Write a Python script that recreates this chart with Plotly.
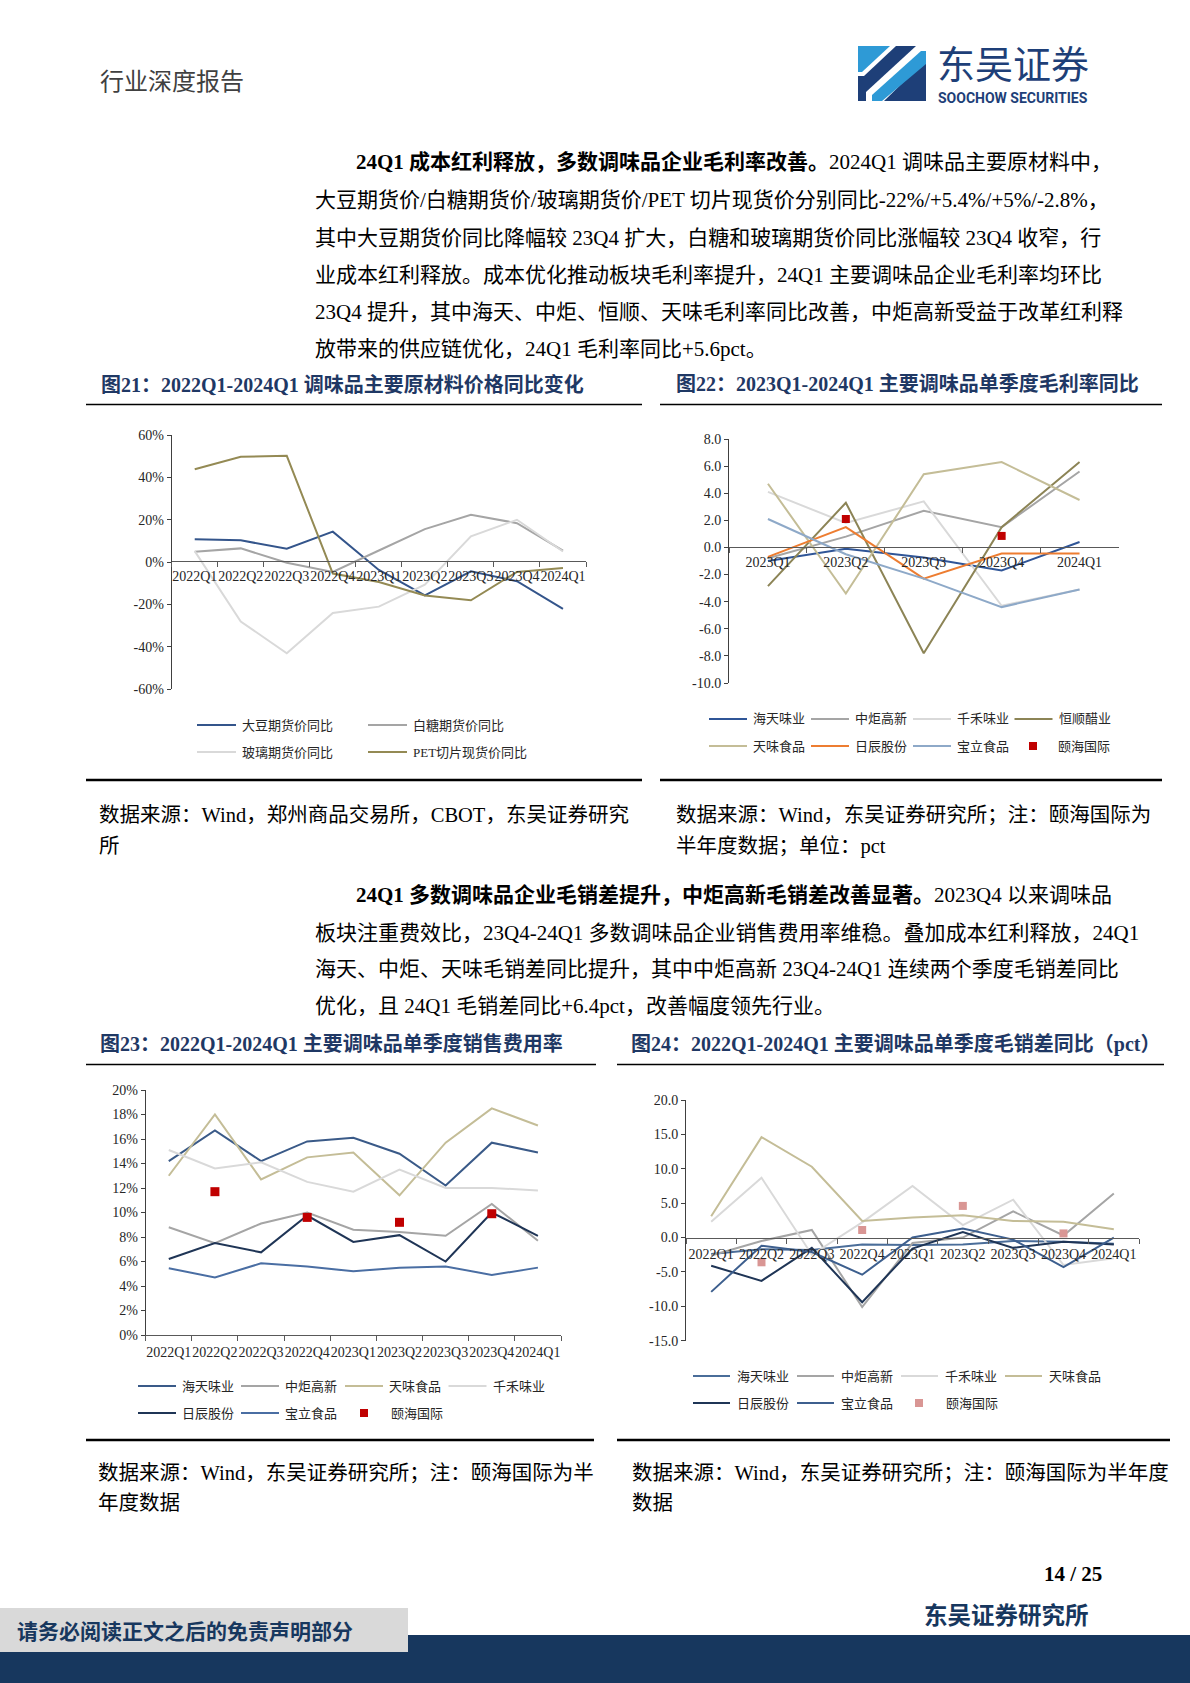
import plotly.graph_objects as go

W, H = 1190, 1683
def fx(x): return x / W
def fy(y): return 1 - y / H

SERIF = "Liberation Serif, Times New Roman, Noto Sans CJK SC, serif"
CJK = "Noto Sans CJK SC, sans-serif"
NAVY = "#1F3864"

# ---------------- data ----------------
quarters9 = ["2022Q1", "2022Q2", "2022Q3", "2022Q4", "2023Q1", "2023Q2", "2023Q3", "2023Q4", "2024Q1"]
quarters5 = ["2023Q1", "2023Q2", "2023Q3", "2023Q4", "2024Q1"]

# Fig 21 raw material price yoy (%)
names21 = ["大豆期货价同比", "白糖期货价同比", "玻璃期货价同比", "PET切片现货价同比"]
soybean21 = [10.8, 10.3, 6.3, 14.4, -3.7, -15.7, -4.3, -9.0, -22.0]
sugar21 = [4.9, 6.5, -0.3, -4.6, 5.5, 15.6, 22.4, 18.4, 5.4]
glass21 = [5.2, -28.0, -43.0, -24.0, -21.0, -10.6, 12.2, 20.0, 5.0]
pet21 = [43.8, 49.7, 50.2, -5.4, -9.4, -15.7, -18.0, -4.6, -2.8]
colors21 = ["#34558B", "#A5A5A5", "#D9D9D9", "#948A54"]

# Fig 22 gross margin yoy (pct)
names22 = ["海天味业", "中炬高新", "千禾味业", "恒顺醋业", "天味食品", "日辰股份", "宝立食品", "颐海国际"]
haitian22 = [-1.0, -0.1, -0.75, -1.7, 0.4]
zhongju22 = [-0.8, 0.8, 2.7, 1.5, 5.6]
qianhe22 = [4.1, 1.8, 3.4, -4.3, -3.1]
hengshun22 = [-2.85, 3.3, -7.8, 1.5, 6.3]
tianwei22 = [4.7, -3.4, 5.4, 6.3, 3.5]
richen22 = [-0.7, 1.5, -2.3, -0.45, -0.45]
baoli22 = [2.1, -0.5, -2.3, -4.4, -3.1]
yihai22 = [None, 2.1, None, 0.85, None]
colors22 = ["#2F5597", "#A5A5A5", "#D9D9D9", "#8C8456", "#C4BD97", "#ED7D31", "#8EA9C8", "#C00000"]

# Fig 23 selling expense ratio (%)
names23 = ["海天味业", "中炬高新", "天味食品", "千禾味业", "日辰股份", "宝立食品", "颐海国际"]
haitian23 = [14.2, 16.7, 14.2, 15.8, 16.1, 14.8, 12.2, 15.7, 14.9]
zhongju23 = [8.8, 7.5, 9.1, 10.0, 8.6, 8.4, 8.1, 10.7, 7.7]
tianwei23 = [13.0, 18.0, 12.7, 14.5, 14.9, 11.4, 15.7, 18.5, 17.1]
qianhe23 = [15.1, 13.6, 14.1, 12.5, 11.7, 13.5, 12.0, 12.0, 11.8]
richen23 = [6.2, 7.5, 6.75, 9.75, 7.6, 8.15, 6.0, 10.0, 8.1]
baoli23 = [5.45, 4.7, 5.85, 5.6, 5.2, 5.5, 5.6, 4.9, 5.5]
yihai23 = [None, 11.7, None, 9.6, None, 9.2, None, 9.9, None]
colors23 = ["#3A5A88", "#A5A5A5", "#C4BD97", "#D9D9D9", "#1F3556", "#4A6EA3", "#C00000"]

# Fig 24 gross margin minus selling expense ratio yoy (pct)
names24 = ["海天味业", "中炬高新", "千禾味业", "天味食品", "日辰股份", "宝立食品", "颐海国际"]
haitian24 = [-2.4, -1.7, -1.8, -1.0, -1.1, -1.0, -0.5, -0.6, -0.9]
zhongju24 = [-2.6, -0.5, 1.1, -10.1, -0.8, 0.0, 3.8, 0.3, 6.4]
qianhe24 = [2.3, 8.7, -2.5, 2.2, 7.5, 1.8, 5.5, -4.0, -3.0]
tianwei24 = [3.1, 14.6, 10.3, 2.4, 2.9, 3.25, 2.4, 2.3, 1.2]
richen24 = [-4.1, -6.3, -1.5, -9.4, -1.6, 0.8, -1.5, -0.6, -1.0]
baoli24 = [-7.9, -1.2, -2.1, -5.4, 0.0, 1.3, -0.3, -4.3, 0.0]
yihai24 = [None, -3.6, None, 1.1, None, 4.6, None, 0.6, None]
colors24 = ["#4A6D99", "#A5A5A5", "#D9D9D9", "#C4BD97", "#1F3556", "#3D5F8E", "#D99694"]

# tick labels
yticks21 = [-60, -40, -20, 0, 20, 40, 60]
yticktext21 = ["-60%", "-40%", "-20%", "0%", "20%", "40%", "60%"]
yticks22 = [-10, -8, -6, -4, -2, 0, 2, 4, 6, 8]
yticktext22 = ["-10.0", "-8.0", "-6.0", "-4.0", "-2.0", "0.0", "2.0", "4.0", "6.0", "8.0"]
yticks23 = [0, 2, 4, 6, 8, 10, 12, 14, 16, 18, 20]
yticktext23 = ["0%", "2%", "4%", "6%", "8%", "10%", "12%", "14%", "16%", "18%", "20%"]
yticks24 = [-15, -10, -5, 0, 5, 10, 15, 20]
yticktext24 = ["-15.0", "-10.0", "-5.0", "0.0", "5.0", "10.0", "15.0", "20.0"]

# ---------------- figure ----------------
fig = go.Figure()

def add_line(x, y, name, color, xa, ya, width=2):
    fig.add_trace(go.Scatter(x=x, y=y, name=name, mode="lines", line=dict(color=color, width=width),
                             xaxis=xa, yaxis=ya, hoverinfo="skip", cliponaxis=False))

def add_sq(x, y, name, color, xa, ya, size=8):
    fig.add_trace(go.Scatter(x=x, y=y, name=name, mode="markers",
                             marker=dict(symbol="square", size=size, color=color, line=dict(width=0)),
                             xaxis=xa, yaxis=ya, hoverinfo="skip", cliponaxis=False))

for vals, nm, c in zip([soybean21, sugar21, glass21, pet21], names21, colors21):
    add_line(quarters9, vals, nm, c, "x", "y")
for vals, nm, c in zip([haitian22, zhongju22, qianhe22, hengshun22, tianwei22, richen22, baoli22],
                       names22[:7], colors22[:7]):
    add_line(quarters5, vals, nm, c, "x2", "y2")
add_sq(quarters5, yihai22, names22[7], colors22[7], "x2", "y2", 8)
for vals, nm, c in zip([haitian23, zhongju23, tianwei23, qianhe23, richen23, baoli23],
                       names23[:6], colors23[:6]):
    add_line(quarters9, vals, nm, c, "x3", "y3")
add_sq(quarters9, yihai23, names23[6], colors23[6], "x3", "y3", 9)
for vals, nm, c in zip([haitian24, zhongju24, qianhe24, tianwei24, richen24, baoli24],
                       names24[:6], colors24[:6]):
    add_line(quarters9, vals, nm, c, "x4", "y4")
add_sq(quarters9, yihai24, names24[6], colors24[6], "x4", "y4", 8)

TICKFONT = dict(family=SERIF, size=14, color="#262626")

def yax(top, bottom, rng, tv, tt, anchor):
    return dict(domain=[fy(bottom), fy(top)], range=rng, tickvals=tv, ticktext=tt, anchor=anchor,
                showgrid=False, zeroline=False, showline=True, linecolor="#404040", linewidth=1,
                ticks="outside", ticklen=4, tickcolor="#404040", tickfont=TICKFONT, fixedrange=True,
                automargin=False)

def xax(left, right, n, anchor=None, position=None, standoff=2):
    d = dict(domain=[fx(left), fx(right)], range=[-0.5, n - 0.5], type="category",
             tickson="boundaries", ticks="outside", ticklen=5, tickcolor="#595959",
             showline=True, linecolor="#595959", linewidth=1, showgrid=False, zeroline=False,
             tickangle=0, tickfont=TICKFONT, fixedrange=True, automargin=False,
             ticklabelstandoff=standoff)
    if position is not None:
        d.update(anchor="free", position=fy(position))
    else:
        d["anchor"] = anchor
    return d

fig.update_layout(
    width=W, height=H, autosize=False, margin=dict(l=0, r=0, t=0, b=0, pad=0, autoexpand=False),
    paper_bgcolor="white", plot_bgcolor="rgba(0,0,0,0)", showlegend=False,
    xaxis=xax(171.7, 586, 9, position=561, standoff=2),
    yaxis=yax(435, 689.3, [-60, 60], yticks21, yticktext21, "x"),
    xaxis2=xax(729, 1118.5, 5, position=546.7, standoff=2),
    yaxis2=yax(439, 683, [-10, 8], yticks22, yticktext22, "x2"),
    xaxis3=xax(145.7, 561, 9, anchor="y3", standoff=4),
    yaxis3=yax(1090, 1335, [0, 20], yticks23, yticktext23, "x3"),
    xaxis4=xax(686, 1139, 9, position=1237.5, standoff=4),
    yaxis4=yax(1100, 1340.7, [-15, 20], yticks24, yticktext24, "x4"),
)

shapes = []
annots = []

def hline(x0, x1, y, color="black", width=1.5):
    shapes.append(dict(type="line", xref="paper", yref="paper", x0=fx(x0), x1=fx(x1),
                       y0=fy(y), y1=fy(y), line=dict(color=color, width=width)))

def rect(x0, y0, x1, y1, color, layer="below"):
    shapes.append(dict(type="rect", xref="paper", yref="paper", x0=fx(x0), x1=fx(x1),
                       y0=fy(y1), y1=fy(y0), fillcolor=color, line=dict(width=0), layer=layer))

def path(pts, color):
    p = "M " + " L ".join(f"{fx(a):.5f},{fy(b):.5f}" for a, b in pts) + " Z"
    shapes.append(dict(type="path", xref="paper", yref="paper", path=p, fillcolor=color, line=dict(width=0)))

def text(x, y, s, size=21, color="black", family=SERIF, xanchor="left"):
    annots.append(dict(x=fx(x), y=fy(y), xref="paper", yref="paper", text=s, showarrow=False,
                       xanchor=xanchor, yanchor="middle", font=dict(family=family, size=size, color=color)))

LEGFONT = "Liberation Serif, Noto Sans CJK SC, sans-serif"

def leg_line(x0, y, color, label, length=38, offset=42):
    hline(x0, x0 + length, y, color, 2)
    text(x0 + offset, y, label, 13, "#262626", LEGFONT)

def leg_sq(xc, y, color, label, tx, size=8):
    shapes.append(dict(type="rect", xref="paper", yref="paper", x0=fx(xc - size / 2), x1=fx(xc + size / 2),
                       y0=fy(y + size / 2), y1=fy(y - size / 2), fillcolor=color, line=dict(width=0)))
    text(tx, y, label, 13, "#262626", LEGFONT)

# ---------- header ----------
text(98, 79, "行业深度报告", 24, "#404040", CJK)
LOGO_NAVY = "#1E3F78"
LOGO_BLUE = "#2E9AD6"
rect(858, 46, 926, 101, LOGO_NAVY, layer="above")
path([(866, 101), (884, 101), (926, 60), (926, 46), (916, 46), (866, 92)], "white")
path([(872, 101), (882, 101), (926, 64), (926, 51), (921, 51), (872, 95)], LOGO_BLUE)
path([(858, 46), (896, 46), (864, 76), (858, 76)], "white")
path([(858, 46), (890, 46), (862, 72), (858, 72)], LOGO_BLUE)
text(935, 62, "东吴证券", 38, LOGO_NAVY, CJK)
text(936, 98, "<b>SOOCHOW SECURITIES</b>", 14, LOGO_NAVY, "Roboto, Noto Sans, sans-serif")

# ---------- paragraph 1 ----------
p1 = [
    "<b>24Q1 成本红利释放，多数调味品企业毛利率改善。</b>2024Q1 调味品主要原材料中，",
    "大豆期货价/白糖期货价/玻璃期货价/PET 切片现货价分别同比-22%/+5.4%/+5%/-2.8%，",
    "其中大豆期货价同比降幅较 23Q4 扩大，白糖和玻璃期货价同比涨幅较 23Q4 收窄，行",
    "业成本红利释放。成本优化推动板块毛利率提升，24Q1 主要调味品企业毛利率均环比",
    "23Q4 提升，其中海天、中炬、恒顺、天味毛利率同比改善，中炬高新受益于改革红利释",
    "放带来的供应链优化，24Q1 毛利率同比+5.6pct。",
]
p1y = [162, 200, 237.5, 275, 312, 349]
for i, (s, y) in enumerate(zip(p1, p1y)):
    text(354 if i == 0 else 313, y, s, 21)

# ---------- figure titles row 1 ----------
text(99, 384, "<b>图21：2022Q1-2024Q1 调味品主要原材料价格同比变化</b>", 20, NAVY)
text(674, 384, "<b>图22：2023Q1-2024Q1 主要调味品单季度毛利率同比</b>", 20, NAVY)
hline(86, 642, 404.5, "black", 1.5)
hline(660, 1162, 404.5, "black", 1.5)
hline(86, 642, 780, "black", 2.5)
hline(660, 1162, 780, "black", 2.5)

# legends
leg_line(197, 725, colors21[0], names21[0], 39, 43)
leg_line(368, 725, colors21[1], names21[1], 39, 43)
leg_line(197, 752, colors21[2], names21[2], 39, 43)
leg_line(368, 752, colors21[3], names21[3], 39, 43)
cols22 = [709, 811, 913, 1014.5]
for i in range(4):
    leg_line(cols22[i], 719, colors22[i], names22[i])
for i in range(3):
    leg_line(cols22[i], 746, colors22[4 + i], names22[4 + i])
leg_sq(1033, 746, colors22[7], names22[7], 1056)

# sources row 1
text(97, 815, "数据来源：Wind，郑州商品交易所，CBOT，东吴证券研究", 20.5)
text(97, 846, "所", 20.5)
text(674, 815, "数据来源：Wind，东吴证券研究所；注：颐海国际为", 20.5)
text(674, 846, "半年度数据；单位：pct", 20.5)

# ---------- paragraph 2 ----------
p2 = [
    "<b>24Q1 多数调味品企业毛销差提升，中炬高新毛销差改善显著。</b>2023Q4 以来调味品",
    "板块注重费效比，23Q4-24Q1 多数调味品企业销售费用率维稳。叠加成本红利释放，24Q1",
    "海天、中炬、天味毛销差同比提升，其中中炬高新 23Q4-24Q1 连续两个季度毛销差同比",
    "优化，且 24Q1 毛销差同比+6.4pct，改善幅度领先行业。",
]
p2y = [895, 932.5, 969, 1005.5]
for i, (s, y) in enumerate(zip(p2, p2y)):
    text(354 if i == 0 else 313, y, s, 21)

# ---------- figure titles row 2 ----------
text(98, 1044, "<b>图23：2022Q1-2024Q1 主要调味品单季度销售费用率</b>", 20, NAVY)
text(629, 1044, "<b>图24：2022Q1-2024Q1 主要调味品单季度毛销差同比（pct）</b>", 20, NAVY)
hline(86, 596, 1064.5, "black", 1.5)
hline(617, 1164, 1064.5, "black", 1.5)
hline(86, 594, 1440, "black", 2.5)
hline(617, 1170, 1440, "black", 2.5)

cols23 = [138, 241, 345, 448.5]
for i in range(4):
    leg_line(cols23[i], 1386, colors23[i], names23[i])
for i in range(2):
    leg_line(cols23[i], 1413, colors23[4 + i], names23[4 + i])
leg_sq(364, 1413, colors23[6], names23[6], 388.5)
cols24 = [693, 797, 901, 1005]
for i in range(4):
    leg_line(cols24[i], 1376, colors24[i], names24[i], 37)
for i in range(2):
    leg_line(cols24[i], 1403, colors24[4 + i], names24[4 + i], 37)
leg_sq(919, 1403, colors24[6], names24[6], 944)

text(96, 1473, "数据来源：Wind，东吴证券研究所；注：颐海国际为半", 20.5)
text(96, 1503, "年度数据", 20.5)
text(630, 1473, "数据来源：Wind，东吴证券研究所；注：颐海国际为半年度", 20.5)
text(630, 1503, "数据", 20.5)

# ---------- footer ----------
rect(0, 1635, 1190, 1683, "#17375E")
rect(0, 1608, 408, 1652, "#D9D9D9")
text(15, 1630, "<b>请务必阅读正文之后的免责声明部分</b>", 21, "#17375E", CJK)
text(1104, 1574, "<b>14 / 25</b>", 21, "black", SERIF, xanchor="right")
text(1091, 1614, "<b>东吴证券研究所</b>", 23.5, "#17375E", CJK, xanchor="right")

fig.update_layout(shapes=shapes, annotations=annots)

fig.write_html("out.html", config={"displayModeBar": False, "staticPlot": True},
               post_script="document.body.style.margin='0px';document.documentElement.style.overflow='hidden';")
